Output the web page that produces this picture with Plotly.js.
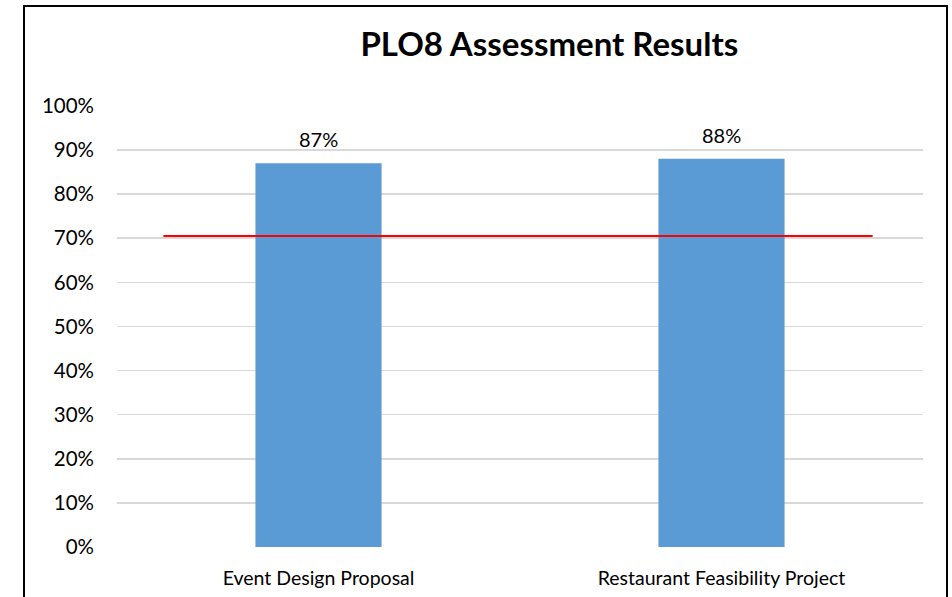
<!DOCTYPE html>
<html>
<head>
<meta charset="utf-8">
<script src="https://cdn.plot.ly/plotly-3.0.1.min.js"></script>
<style>
  html, body { margin: 0; padding: 0; background: #fff; }
  #chart { width: 952px; height: 597px; }
  #frame { position: absolute; left: 23px; top: 5px; width: 921px; height: 700px;
           border: 2px solid #000; pointer-events: none; }
</style>
</head>
<body>
<div id="chart"></div>
<div id="frame"></div>
<script>
// values
const categories = ['Event Design Proposal', 'Restaurant Feasibility Project'];
const scores = [0.87, 0.88];
const targetValue = 0.705;
const targetSpan = [-0.385, 1.375];

const positions = categories.map((c, i) => i);

const bars = {
  x: positions,
  y: scores,
  type: 'bar',
  width: 0.313,
  marker: { color: '#5b9bd5' },
  hoverinfo: 'none'
};

const target = {
  x: targetSpan,
  y: targetSpan.map(() => targetValue),
  type: 'scatter',
  mode: 'lines',
  line: { color: '#ff0000', width: 2 },
  hoverinfo: 'none'
};

// value labels above the bars
const labels = scores.map((v, i) => ({
  x: positions[i],
  y: v,
  text: Math.round(v * 100) + '%',
  showarrow: false,
  yanchor: 'middle',
  yshift: 24,
  font: { family: 'Lato, sans-serif', size: 20, color: '#000' }
}));

const layout = {
  width: 952,
  height: 597,
  margin: { l: 117, r: 29, t: 105, b: 50 },
  paper_bgcolor: '#fff',
  plot_bgcolor: '#fff',
  showlegend: false,
  font: { family: 'Lato, sans-serif', size: 20, color: '#000' },
  title: {
    text: '<b>PLO8 Assessment Results</b>',
    font: { family: 'Lato, sans-serif', size: 33, color: '#000' },
    xref: 'container', x: 0.577, xanchor: 'center',
    yref: 'container', y: 0.926, yanchor: 'middle'
  },
  annotations: labels,
  xaxis: {
    type: 'linear',
    range: [-0.5, 1.5],
    tickvals: positions,
    ticktext: categories,
    tickfont: { size: 19.5 },
    showgrid: false,
    zeroline: false,
    showline: false,
    ticks: '',
    ticklabelstandoff: 17,
    fixedrange: true
  },
  yaxis: {
    range: [0, 1.002],
    dtick: 0.1,
    tickformat: '.0%',
    tickfont: { size: 20.5 },
    gridcolor: '#d9d9d9',
    gridwidth: 1.5,
    zeroline: false,
    showline: false,
    ticks: '',
    ticklabelstandoff: 22,
    fixedrange: true
  }
};

Plotly.newPlot('chart', [bars, target], layout, { displayModeBar: false, staticPlot: true });
</script>
</body>
</html>
